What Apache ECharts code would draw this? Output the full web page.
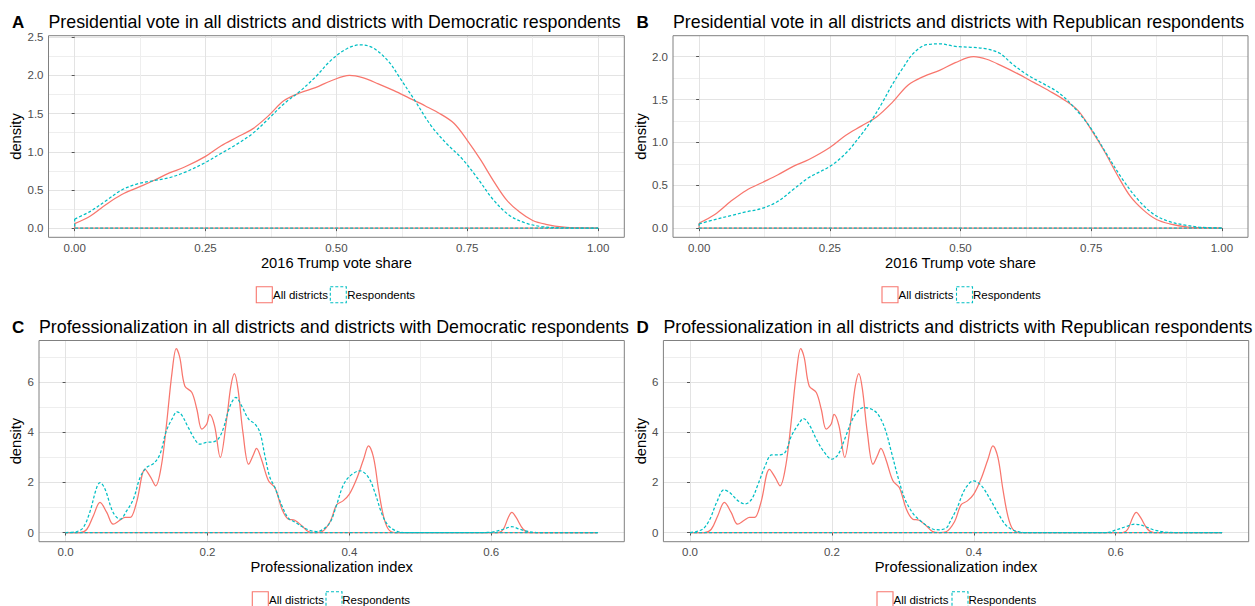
<!DOCTYPE html>
<html>
<head>
<meta charset="utf-8">
<script src="https://cdn.jsdelivr.net/npm/echarts@6/dist/echarts.min.js"></script>
<style>
  html, body { margin: 0; padding: 0; background: #ffffff; }
  #chart { width: 1255px; height: 606px; }
</style>
</head>
<body>
<div id="chart"></div>
<script>
// ---- 2016 Trump vote share: density estimates ----
const voteAllX = [0, 0.03, 0.06, 0.09, 0.12, 0.15, 0.18, 0.21, 0.25, 0.28, 0.31, 0.34, 0.37, 0.40, 0.43, 0.46, 0.49, 0.525, 0.55, 0.58, 0.61, 0.64, 0.67, 0.70, 0.725, 0.75, 0.775, 0.80, 0.825, 0.85, 0.875, 0.90, 0.935, 0.97, 1.0];
const voteAllY = [0.06, 0.16, 0.31, 0.44, 0.53, 0.62, 0.72, 0.80, 0.94, 1.08, 1.19, 1.30, 1.47, 1.67, 1.77, 1.84, 1.93, 2.00, 1.97, 1.89, 1.80, 1.70, 1.60, 1.49, 1.37, 1.15, 0.90, 0.62, 0.37, 0.21, 0.10, 0.05, 0.013, 0.003, 0];

const voteDemX = [0, 0.03, 0.06, 0.09, 0.12, 0.15, 0.18, 0.21, 0.25, 0.28, 0.31, 0.34, 0.37, 0.40, 0.43, 0.46, 0.49, 0.52, 0.545, 0.57, 0.60, 0.62, 0.65, 0.68, 0.71, 0.74, 0.77, 0.80, 0.83, 0.86, 0.89, 0.92, 0.96, 1.0];
const voteDemY = [0.12, 0.22, 0.36, 0.50, 0.58, 0.62, 0.66, 0.73, 0.86, 0.98, 1.10, 1.24, 1.43, 1.63, 1.79, 1.98, 2.20, 2.35, 2.40, 2.36, 2.18, 1.98, 1.67, 1.35, 1.11, 0.91, 0.65, 0.37, 0.17, 0.07, 0.022, 0.006, 0.001, 0];

const voteRepX = [0, 0.03, 0.06, 0.09, 0.12, 0.15, 0.18, 0.21, 0.25, 0.28, 0.31, 0.33, 0.35, 0.37, 0.39, 0.41, 0.435, 0.46, 0.49, 0.52, 0.55, 0.575, 0.60, 0.63, 0.66, 0.69, 0.72, 0.75, 0.78, 0.81, 0.84, 0.87, 0.90, 0.93, 0.96, 1.0];
const voteRepY = [0.05, 0.10, 0.145, 0.19, 0.23, 0.31, 0.45, 0.59, 0.72, 0.87, 1.09, 1.26, 1.46, 1.68, 1.87, 2.04, 2.14, 2.15, 2.12, 2.11, 2.09, 2.04, 1.91, 1.78, 1.68, 1.57, 1.39, 1.16, 0.86, 0.57, 0.33, 0.16, 0.075, 0.035, 0.01, 0];

// ---- Professionalization index: density estimates ----
const profAllX = [0, 0.02, 0.03, 0.039, 0.0485, 0.058, 0.067, 0.077, 0.084, 0.091, 0.10, 0.112, 0.12, 0.127, 0.135, 0.142, 0.150, 0.156, 0.161, 0.168, 0.178, 0.185, 0.192, 0.199, 0.203, 0.21, 0.218, 0.227, 0.233, 0.238, 0.243, 0.25, 0.258, 0.265, 0.269, 0.276, 0.286, 0.295, 0.305, 0.314, 0.323, 0.333, 0.342, 0.352, 0.361, 0.373, 0.382, 0.391, 0.40, 0.41, 0.42, 0.427, 0.434, 0.441, 0.448, 0.455, 0.464, 0.61, 0.617, 0.624, 0.629, 0.635, 0.645, 0.654, 0.75];
const profAllY = [0, 0, 0.13, 0.66, 1.2, 0.8, 0.33, 0.5, 0.6, 0.6, 1.2, 2.52, 2.2, 1.86, 2.66, 4.25, 6.37, 7.33, 6.97, 5.84, 5.58, 4.91, 4.12, 4.32, 4.71, 4.25, 2.99, 4.52, 5.84, 6.33, 5.71, 3.98, 2.72, 3.12, 3.35, 2.92, 2.06, 1.79, 0.93, 0.53, 0.49, 0.27, 0.04, 0, 0.03, 0.44, 1.1, 1.26, 1.53, 2.12, 2.92, 3.45, 2.99, 1.73, 0.66, 0.13, 0, 0, 0.13, 0.6, 0.8, 0.6, 0.13, 0, 0];

const profDemX = [0, 0.016, 0.025, 0.034, 0.0438, 0.0485, 0.0555, 0.067, 0.077, 0.086, 0.0955, 0.105, 0.114, 0.124, 0.133, 0.142, 0.15, 0.157, 0.163, 0.173, 0.182, 0.189, 0.199, 0.208, 0.215, 0.222, 0.232, 0.24, 0.248, 0.258, 0.267, 0.274, 0.281, 0.288, 0.295, 0.305, 0.314, 0.323, 0.333, 0.344, 0.354, 0.363, 0.373, 0.382, 0.391, 0.40, 0.415, 0.427, 0.436, 0.446, 0.455, 0.467, 0.476, 0.59, 0.603, 0.617, 0.629, 0.64, 0.654, 0.664, 0.75];
const profDemY = [0, 0.04, 0.2, 0.8, 1.79, 1.99, 1.73, 0.8, 0.53, 0.86, 1.33, 2.19, 2.59, 2.75, 3.12, 4.05, 4.52, 4.81, 4.71, 4.18, 3.72, 3.52, 3.59, 3.61, 3.72, 4.12, 5.05, 5.38, 5.05, 4.52, 4.32, 3.98, 3.05, 2.19, 1.79, 1.06, 0.57, 0.42, 0.24, 0.09, 0.04, 0.13, 0.41, 1.1, 1.86, 2.23, 2.46, 2.19, 1.59, 0.73, 0.27, 0.05, 0, 0, 0.03, 0.13, 0.23, 0.13, 0.03, 0, 0];

const profRepX = [0, 0.009, 0.019, 0.028, 0.0376, 0.048, 0.056, 0.068, 0.0775, 0.087, 0.096, 0.106, 0.115, 0.124, 0.134, 0.143, 0.153, 0.16, 0.169, 0.178, 0.188, 0.2, 0.209, 0.218, 0.228, 0.237, 0.245, 0.256, 0.265, 0.275, 0.284, 0.294, 0.303, 0.315, 0.324, 0.334, 0.343, 0.352, 0.362, 0.366, 0.376, 0.388, 0.40, 0.411, 0.423, 0.435, 0.446, 0.458, 0.47, 0.587, 0.601, 0.615, 0.627, 0.639, 0.653, 0.667, 0.681, 0.75];
const profRepY = [0, 0.04, 0.16, 0.53, 1.2, 1.70, 1.59, 1.26, 1.14, 1.33, 1.93, 2.66, 3.09, 3.09, 3.19, 3.85, 4.32, 4.54, 4.25, 3.72, 3.25, 2.92, 3.12, 3.72, 4.45, 4.85, 4.98, 4.91, 4.71, 4.12, 3.19, 2.12, 1.33, 0.73, 0.49, 0.27, 0.13, 0.11, 0.2, 0.4, 0.95, 1.75, 2.06, 1.86, 1.33, 0.73, 0.27, 0.07, 0, 0, 0.11, 0.24, 0.33, 0.27, 0.11, 0.03, 0, 0];

// ---- tick values and labels ----
const voteTicks = [0, 0.25, 0.5, 0.75, 1];
const voteTickLabels = ['0.00', '0.25', '0.50', '0.75', '1.00'];
const profTicks = [0, 0.2, 0.4, 0.6];
const profTickLabels = ['0.0', '0.2', '0.4', '0.6'];
const densATicks = [0, 0.5, 1, 1.5, 2, 2.5];
const densATickLabels = ['0.0', '0.5', '1.0', '1.5', '2.0', '2.5'];
const densBTicks = [0, 0.5, 1, 1.5, 2];
const densBTickLabels = ['0.0', '0.5', '1.0', '1.5', '2.0'];
const densProfTicks = [0, 2, 4, 6];
const densProfTickLabels = ['0', '2', '4', '6'];

const seriesNames = ['All districts', 'Respondents'];
const COLORS = ['#F8766D', '#00BFC4'];
const FONT = '"Liberation Sans", Arial, Helvetica, sans-serif';

// panel layout (plot area in pixels) and scales
const panels = [
  { letter: 'A', title: 'Presidential vote in all districts and districts with Democratic respondents',
    box: { left: 48.5, top: 35.7, width: 575.8, height: 201.6 },
    x: { min: -0.05, max: 1.05, step: 0.25, ticks: voteTicks, labels: voteTickLabels, name: '2016 Trump vote share' },
    y: { min: -0.12, max: 2.52, step: 0.5, ticks: densATicks, labels: densATickLabels, gap: 22 },
    curves: [[voteAllX, voteAllY], [voteDemX, voteDemY]],
    legendX: [256.3, 273, 330.3, 347.3], legendY: 286.7 },
  { letter: 'B', title: 'Presidential vote in all districts and districts with Republican respondents',
    box: { left: 673, top: 35.7, width: 575, height: 201.6 },
    x: { min: -0.05, max: 1.05, step: 0.25, ticks: voteTicks, labels: voteTickLabels, name: '2016 Trump vote share' },
    y: { min: -0.107, max: 2.245, step: 0.5, ticks: densBTicks, labels: densBTickLabels, gap: 22 },
    curves: [[voteAllX, voteAllY], [voteRepX, voteRepY]],
    legendX: [882, 898.5, 956.5, 973], legendY: 286.7 },
  { letter: 'C', title: 'Professionalization in all districts and districts with Democratic respondents',
    box: { left: 39, top: 340.5, width: 585.3, height: 201.2 },
    x: { min: -0.0375, max: 0.7875, step: 0.2, ticks: profTicks, labels: profTickLabels, name: 'Professionalization index' },
    y: { min: -0.366, max: 7.65, step: 2, ticks: densProfTicks, labels: densProfTickLabels, gap: 13 },
    curves: [[profAllX, profAllY], [profDemX, profDemY]],
    legendX: [252.3, 269, 326, 342.3], legendY: 591.7 },
  { letter: 'D', title: 'Professionalization in all districts and districts with Republican respondents',
    box: { left: 663.4, top: 340.5, width: 585.3, height: 201.2 },
    x: { min: -0.0375, max: 0.7875, step: 0.2, ticks: profTicks, labels: profTickLabels, name: 'Professionalization index' },
    y: { min: -0.366, max: 7.65, step: 2, ticks: densProfTicks, labels: densProfTickLabels, gap: 13 },
    curves: [[profAllX, profAllY], [profRepX, profRepY]],
    legendX: [877, 893.5, 952, 968.5], legendY: 591.7 }
];

function labelFor(ticks, labels) {
  return function (v) {
    let best = 0;
    for (let i = 1; i < ticks.length; i++) {
      if (Math.abs(ticks[i] - v) < Math.abs(ticks[best] - v)) best = i;
    }
    return labels[best];
  };
}

const grid = [], xAxis = [], yAxis = [], series = [], graphic = [];

panels.forEach((p, i) => {
  grid.push({ left: p.box.left, top: p.box.top, width: p.box.width, height: p.box.height, show: false });

  const gridLines = {
    splitLine: { show: true, lineStyle: { color: '#e3e3e3', width: 1 } },
    minorTick: { show: false, splitNumber: 2 },
    minorSplitLine: { show: true, lineStyle: { color: '#eeeeee', width: 1 } },
    axisLine: { show: false }
  };

  xAxis.push(Object.assign({
    type: 'value', gridIndex: i,
    min: p.x.min, max: p.x.max, minInterval: p.x.step, maxInterval: p.x.step,
    name: p.x.name, nameLocation: 'middle', nameGap: 18,
    nameTextStyle: { fontFamily: FONT, fontSize: 14.7, color: '#000000' },
    axisTick: { show: true, length: 3, lineStyle: { color: '#555555' }, customValues: p.x.ticks },
    axisLabel: { fontFamily: FONT, fontSize: 11.5, color: '#4d4d4d', margin: 4.5,
                 customValues: p.x.ticks, formatter: labelFor(p.x.ticks, p.x.labels) }
  }, gridLines));

  yAxis.push(Object.assign({
    type: 'value', gridIndex: i,
    min: p.y.min, max: p.y.max, minInterval: p.y.step, maxInterval: p.y.step,
    name: 'density', nameLocation: 'middle', nameGap: p.y.gap,
    nameTextStyle: { fontFamily: FONT, fontSize: 14.7, color: '#000000' },
    axisTick: { show: true, length: 3, lineStyle: { color: '#555555' }, customValues: p.y.ticks },
    axisLabel: { fontFamily: FONT, fontSize: 11.5, color: '#4d4d4d', margin: 5,
                 customValues: p.y.ticks, formatter: labelFor(p.y.ticks, p.y.labels) }
  }, gridLines));

  // each density is drawn as an outline: the curve, then the baseline back to the start
  p.curves.forEach((c, k) => {
    const xs = c[0], ys = c[1];
    const lineStyle = { color: COLORS[k], width: 1.25, type: k === 0 ? 'solid' : [3, 2] };
    series.push({
      name: seriesNames[k], type: 'line', xAxisIndex: i, yAxisIndex: i,
      data: xs.map((x, j) => [x, ys[j]]),
      smooth: 0.35, showSymbol: false, symbol: 'none', lineStyle: lineStyle, z: 3 + k, silent: true
    });
    series.push({
      name: seriesNames[k], type: 'line', xAxisIndex: i, yAxisIndex: i,
      data: [[xs[xs.length - 1], 0], [xs[0], 0], [xs[0], ys[0]]],
      smooth: false, showSymbol: false, symbol: 'none', lineStyle: lineStyle, z: 3 + k, silent: true
    });
  });

  // panel border
  graphic.push({ type: 'rect', z: 50, silent: true,
    shape: { x: p.box.left, y: p.box.top, width: p.box.width, height: p.box.height },
    style: { fill: 'none', stroke: '#808080', lineWidth: 1 } });

  // panel letter and title
  const titleY = p.box.top - 13.5;
  graphic.push({ type: 'text', z: 50, silent: true, x: i % 2 === 0 ? 12 : 636.5, y: titleY,
    style: { text: p.letter, font: 'bold 17px ' + FONT, fill: '#000000', verticalAlign: 'middle' } });
  graphic.push({ type: 'text', z: 50, silent: true, x: p.box.left, y: titleY,
    style: { text: p.title, font: '17.8px ' + FONT, fill: '#000000', verticalAlign: 'middle' } });

  // legend: outlined keys followed by their labels
  seriesNames.forEach((n, k) => {
    graphic.push({ type: 'rect', z: 50, silent: true,
      shape: { x: p.legendX[k * 2], y: p.legendY, width: 16, height: 16 },
      style: { fill: '#ffffff', stroke: COLORS[k], lineWidth: 1.1, lineDash: k === 0 ? null : [3, 2] } });
    graphic.push({ type: 'text', z: 50, silent: true, x: p.legendX[k * 2 + 1], y: p.legendY + 8.5,
      style: { text: n, font: '11.5px ' + FONT, fill: '#000000', verticalAlign: 'middle' } });
  });
});

const chart = echarts.init(document.getElementById('chart'), null, { renderer: 'svg', width: 1255, height: 606 });
chart.setOption({
  backgroundColor: '#ffffff',
  animation: false,
  grid: grid,
  xAxis: xAxis,
  yAxis: yAxis,
  series: series,
  graphic: graphic
});
</script>
</body>
</html>
